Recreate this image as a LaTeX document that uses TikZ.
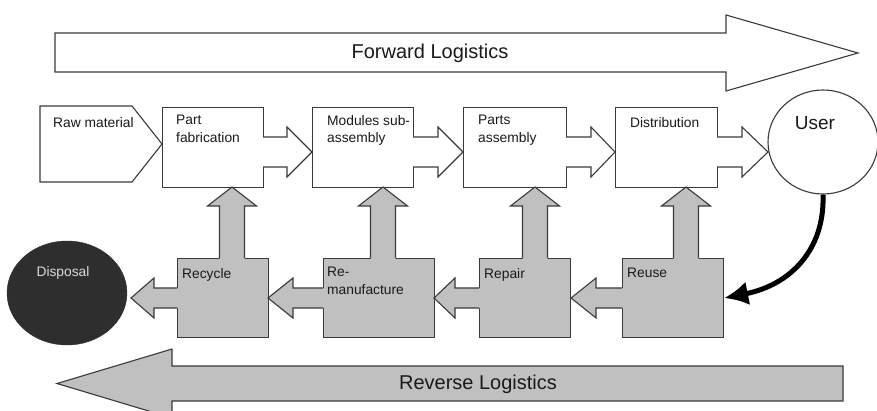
\documentclass[tikz,border=0pt]{standalone}
\usepackage{fontspec}
\setmainfont{Liberation Sans}
\usetikzlibrary{arrows.meta,shapes.geometric}
\definecolor{boxgray}{HTML}{C0C0C0}
\definecolor{edgec}{HTML}{3A3A3A}
\definecolor{darkfill}{HTML}{2E2E2E}
\definecolor{txt}{HTML}{1A1A1A}
\definecolor{disptxt}{HTML}{DADADA}
% block arrows: shapes drawn directly
\newcommand\blkR[4]{% shaft start x, head base x, tip x, centre y
  \fill[white] (#1-2,#4-15) -- (#2,#4-15) -- (#2,#4-25) -- (#3,#4) -- (#2,#4+25) -- (#2,#4+15) -- (#1-2,#4+15) -- cycle;
  \draw[outl] (#1,#4-15) -- (#2,#4-15) -- (#2,#4-25) -- (#3,#4) -- (#2,#4+25) -- (#2,#4+15) -- (#1,#4+15);}
\newcommand\blkL[4]{% shaft start x, head base x, tip x, centre y
  \fill[boxgray] (#1+2,#4-10) -- (#2,#4-10) -- (#2,#4-20) -- (#3,#4) -- (#2,#4+20) -- (#2,#4+10) -- (#1+2,#4+10) -- cycle;
  \draw[outl] (#1,#4-10) -- (#2,#4-10) -- (#2,#4-20) -- (#3,#4) -- (#2,#4+20) -- (#2,#4+10) -- (#1,#4+10);}
\newcommand\blkU[4]{% centre x, tip y, head base y, shaft start y
  \fill[boxgray] (#1-12.5,#4+2) -- (#1-12.5,#3) -- (#1-24.5,#3) -- (#1,#2) -- (#1+24.5,#3) -- (#1+12.5,#3) -- (#1+12.5,#4+2) -- cycle;
  \draw[outl] (#1-12.5,#4) -- (#1-12.5,#3) -- (#1-24.5,#3) -- (#1,#2) -- (#1+24.5,#3) -- (#1+12.5,#3) -- (#1+12.5,#4);}
\begin{document}
\begin{tikzpicture}[x=1pt,y=-1pt,
  outl/.style={draw=edgec,line width=1.1pt,line join=miter},
  wbox/.style={outl,fill=white,rectangle,inner sep=0,anchor=north west},
  gbox/.style={outl,fill=boxgray,rectangle,inner sep=0,anchor=north west},
  lbl/.style={inner sep=0,anchor=north west,align=left,text=txt,font=\fontsize{13.8}{17.5}\selectfont},
  biglbl/.style={inner sep=0,anchor=base,text=txt,font=\fontsize{20}{24}\selectfont}]
\useasboundingbox (0,0) rectangle (877,411);
\clip (0,0) rectangle (877,411);

% big logistics arrows
\draw[outl,fill=white] (55,33) -- (726,33) -- (726,15) -- (858,53) -- (726,91) -- (726,72) -- (55,72) -- cycle;
\node[biglbl] (fwd) at (430,59) {Forward Logistics};
\draw[outl,fill=boxgray] (843,366) -- (172,366) -- (172,349) -- (57,383.5) -- (172,418) -- (172,401) -- (843,401) -- cycle;
\node[biglbl] (rev) at (478,389) {Reverse Logistics};

% forward chain
\draw[outl,fill=white] (40,106) -- (132,106) -- (162,144) -- (132,182) -- (40,182) -- cycle;
\coordinate (raw) at (100,144);
\node[wbox,minimum width=101pt,minimum height=80pt] (pf) at (162,107) {};
\node[wbox,minimum width=101pt,minimum height=80pt] (ma) at (312,107) {};
\node[wbox,minimum width=103pt,minimum height=80pt] (pa) at (463,107) {};
\node[wbox,minimum width=102pt,minimum height=80pt] (di) at (615,107) {};
\node[ellipse,outl,fill=white,minimum width=110pt,minimum height=104pt,inner sep=0] (user) at (823,142) {};

% reverse chain
\node[ellipse,draw=darkfill,fill=darkfill,minimum width=120pt,minimum height=104pt,inner sep=0] (disp) at (67,293) {};
\node[gbox,minimum width=91pt,minimum height=79pt] (rc) at (177,258) {};
\node[gbox,minimum width=111pt,minimum height=79pt] (rm) at (323,258) {};
\node[gbox,minimum width=91pt,minimum height=79pt] (rp) at (479,258) {};
\node[gbox,minimum width=101pt,minimum height=79pt] (ru) at (622,258) {};

% white forward block arrows
\blkR{263}{287}{312}{152}
\blkR{413}{438}{463}{152}
\blkR{566}{591}{615}{152}
\blkR{717}{742}{768}{152}

% grey reverse block arrows
\blkL{177}{154}{131}{298}
\blkL{323}{293}{268}{298}
\blkL{479}{455}{434}{298}
\blkL{622}{596}{571}{298}

% grey up arrows
\blkU{232}{187}{206}{258}
\blkU{383}{187}{206}{258}
\blkU{535}{187}{206}{258}
\blkU{686}{187}{206}{258}

% user to reuse
\draw[line width=5pt,-{Latex[length=24pt,width=24pt]}] (user.south) .. controls (825,250) and (790,285) .. (ru.east);

% labels
\node[lbl] (tRaw) at (53,117) {Raw material};
\node[lbl] (tPf) at (176,115) {Part\\fabrication};
\node[lbl] (tMa) at (327,115) {Modules sub-\\assembly};
\node[lbl] (tPa) at (478,115) {Parts\\assembly};
\node[lbl] (tDi) at (630,117) {Distribution};
\node[inner sep=0,anchor=base,text=txt,font=\fontsize{19}{22}\selectfont] (tUser) at (815,130) {User};
\node[inner sep=0,anchor=base,text=disptxt,font=\fontsize{13.8}{17.5}\selectfont] (tDisp) at (63,277) {Disposal};
\node[lbl] (tRc) at (182,268) {Recycle};
\node[lbl] (tRm) at (327,267) {Re-\\manufacture};
\node[lbl] (tRp) at (484,268) {Repair};
\node[lbl] (tRu) at (627,268) {Reuse};
\end{tikzpicture}
\end{document}
